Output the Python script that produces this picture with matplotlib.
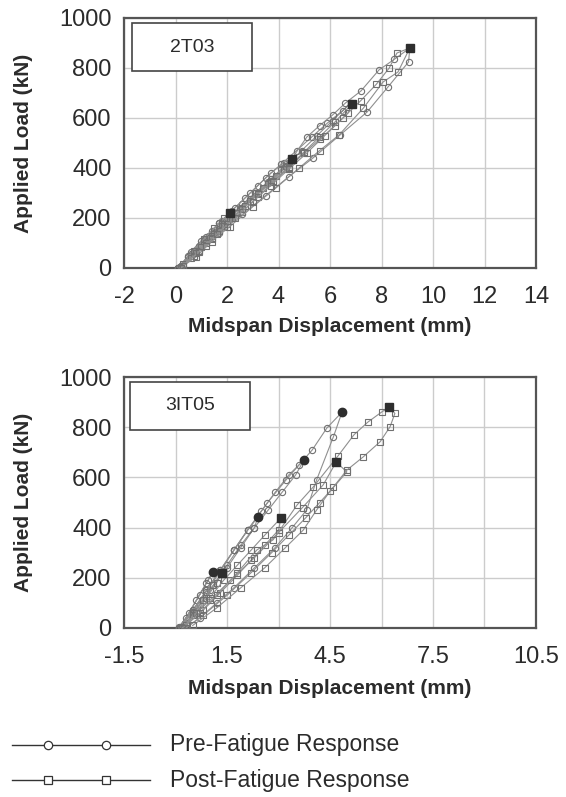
import matplotlib
matplotlib.use("Agg")
import matplotlib.pyplot as plt
from matplotlib.patches import Rectangle

plt.rcParams['font.family'] = ['Liberation Sans', 'DejaVu Sans']
plt.rcParams['axes.unicode_minus'] = False

# ---------------- data ----------------
# Panel 1: specimen 2T03
top_label = "2T03"
top_xticks = [-2, 0, 2, 4, 6, 8, 10, 12, 14]
top_yticks = [0, 200, 400, 600, 800, 1000]

top_pre_x = [
    [0.1, 0.5, 0.9, 1.3, 1.7, 2.1, 1.8, 1.4, 1.0, 0.6, 0.2],
    [0.1, 0.6, 1.1, 1.6, 2.1, 2.6, 3.1, 3.6, 4.1, 4.5, 4.2, 3.7, 3.2, 2.7, 2.2, 1.7, 1.2, 0.7, 0.2],
    [0.1, 0.7, 1.3, 1.9, 2.5, 3.1, 3.7, 4.3, 4.9, 5.5, 6.1, 6.8, 6.5, 5.9, 5.3, 4.7, 4.1, 3.5, 2.9, 2.3, 1.7, 1.1, 0.5, 0.1],
    [0.1, 0.8, 1.5, 2.2, 2.9, 3.6, 4.3, 5.1, 5.6, 6.1, 6.6, 7.2, 7.9, 8.5, 9.1, 9.05, 8.25, 7.44, 6.39, 5.34, 4.4, 3.5, 2.6, 1.7, 0.9, 0.2],
]
top_pre_y = [
    [0, 45, 90, 130, 170, 215, 190, 150, 110, 65, 10],
    [0, 55, 105, 155, 205, 255, 300, 345, 395, 440, 420, 380, 330, 280, 230, 180, 125, 70, 10],
    [0, 60, 120, 180, 240, 300, 355, 410, 470, 530, 590, 660, 630, 580, 525, 470, 415, 360, 300, 240, 180, 115, 50, 0],
    [0, 70, 140, 210, 275, 340, 405, 524, 570, 612, 660, 708, 792, 835, 880, 824, 724, 624, 532, 440, 365, 290, 215, 140, 70, 5],
]
top_post_x = [
    [0.2, 0.6, 1.0, 1.4, 1.8, 2.12, 1.9, 1.5, 1.1, 0.7, 0.3],
    [0.2, 0.7, 1.2, 1.7, 2.2, 2.7, 3.2, 3.7, 4.2, 4.52, 4.3, 3.9, 3.4, 2.9, 2.4, 1.9, 1.4, 0.9, 0.3],
    [0.2, 0.8, 1.4, 2.0, 2.6, 3.2, 3.8, 4.4, 5.0, 5.6, 6.2, 6.85, 6.7, 6.2, 5.6, 5.0, 4.4, 3.8, 3.2, 2.6, 2.0, 1.4, 0.8, 0.2],
    [0.2, 0.9, 1.6, 2.3, 3.0, 3.7, 4.4, 5.1, 5.8, 6.5, 7.2, 7.8, 8.3, 8.6, 9.1, 8.64, 8.06, 7.3, 6.35, 5.6, 4.8, 3.9, 3.0, 2.1, 1.2, 0.3],
]
top_post_y = [
    [0, 40, 85, 130, 175, 220, 200, 160, 115, 70, 15],
    [0, 50, 100, 150, 200, 250, 300, 345, 395, 435, 410, 370, 320, 270, 220, 170, 120, 70, 10],
    [0, 60, 115, 175, 235, 295, 350, 405, 465, 525, 585, 656, 620, 570, 515, 460, 400, 345, 285, 225, 165, 105, 45, 0],
    [0, 65, 135, 200, 265, 330, 395, 460, 530, 600, 670, 735, 800, 860, 880, 784, 744, 640, 532, 470, 400, 320, 245, 165, 90, 10],
]
top_post_peak_x = [2.12, 4.52, 6.85, 9.1]
top_post_peak_y = [220, 435, 656, 880]

# Panel 2: specimen 3IT05
bot_label = "3IT05"
bot_xticks = [-1.5, 1.5, 4.5, 7.5, 10.5]
bot_xgrid = [0, 3, 6, 9]
bot_yticks = [0, 200, 400, 600, 800, 1000]

bot_pre_x = [
    [0.1, 0.4, 0.7, 0.95, 1.09, 0.9, 0.6, 0.3, 0.1],
    [0.1, 0.5, 0.9, 1.3, 1.7, 2.1, 2.4, 2.3, 1.9, 1.5, 1.1, 0.7, 0.3, 0.1],
    [0.1, 0.5, 0.9, 1.3, 1.7, 2.1, 2.5, 2.9, 3.3, 3.74, 3.5, 3.1, 2.7, 2.3, 1.9, 1.5, 1.0, 0.5, 0.15],
    [0.1, 0.5, 0.9, 1.3, 1.7, 2.1, 2.67, 3.22, 3.6, 3.98, 4.41, 4.85, 4.6, 4.11, 3.82, 3.4, 2.9, 2.3, 1.7, 1.2, 0.7, 0.3],
]
bot_pre_y = [
    [0, 60, 130, 190, 223, 180, 110, 40, 5],
    [0, 70, 150, 230, 310, 390, 442, 400, 330, 250, 170, 90, 20, 0],
    [0, 70, 150, 230, 310, 390, 465, 540, 610, 669, 610, 540, 470, 400, 320, 240, 150, 60, 5],
    [0, 65, 145, 225, 310, 390, 498, 590, 650, 709, 797, 860, 762, 590, 470, 400, 320, 240, 160, 100, 40, 0],
]
bot_pre_peak_x = [1.09, 2.4, 3.74, 4.85]
bot_pre_peak_y = [223, 442, 669, 860]

bot_post_x = [
    [0.2, 0.5, 0.8, 1.1, 1.35, 1.2, 0.9, 0.6, 0.25],
    [0.2, 0.6, 1.0, 1.4, 1.8, 2.2, 2.6, 3.07, 3.0, 2.6, 2.2, 1.8, 1.3, 0.8, 0.3],
    [0.2, 0.6, 1.0, 1.6, 2.3, 3.0, 3.7, 4.3, 4.68, 4.99, 4.6, 4.2, 3.8, 3.3, 2.8, 2.2, 1.5, 0.8, 0.3],
    [0.2, 0.7, 1.2, 1.8, 2.37, 2.84, 3.54, 4.0, 4.73, 5.2, 5.6, 6.0, 6.22, 6.39, 6.25, 5.96, 5.47, 4.99, 4.5, 4.11, 3.72, 3.2, 2.6, 1.9, 1.2, 0.5],
]
bot_post_y = [
    [0, 50, 110, 170, 219, 180, 120, 60, 5],
    [0, 60, 120, 190, 250, 310, 370, 438, 390, 330, 270, 210, 140, 70, 10],
    [0, 60, 110, 190, 280, 380, 480, 570, 661, 622, 560, 500, 440, 370, 300, 220, 130, 50, 0],
    [0, 60, 130, 220, 311, 351, 490, 560, 685, 770, 820, 860, 880, 855, 802, 742, 682, 629, 545, 470, 390, 320, 240, 160, 80, 10],
]
bot_post_peak_x = [1.35, 3.07, 4.68, 6.22]
bot_post_peak_y = [219, 438, 661, 880]

legend_labels = ["Pre-Fatigue Response", "Post-Fatigue Response"]

# ---------------- figure ----------------
W, H = 566, 797
fig = plt.figure(figsize=(W / 100, H / 100), dpi=100)

line_col = '#8f8f8f'
mk_col = '#707070'
peak_col = '#2e2e2e'
frame_col = '#555555'
grid_col = '#cccccc'
text_col = '#2b2b2b'


def px_axes(left, top, right, bottom):
    return fig.add_axes([left / W, 1 - bottom / H, (right - left) / W, (bottom - top) / H])


def draw_series(ax, xs, ys, marker):
    for x, y in zip(xs, ys):
        ax.plot(x, y, color=line_col, lw=0.8, marker=marker, ms=4.5,
                mfc='none', mec=mk_col, mew=0.8, zorder=3)


def style_axes(ax, xlim, yticks, label, box):
    ax.set_xlim(*xlim)
    ax.set_ylim(0, 1000)
    ax.set_yticks(yticks)
    ax.grid(True, which='both', color=grid_col, lw=1.0, zorder=0)
    ax.set_axisbelow(True)
    for s in ax.spines.values():
        s.set_color(frame_col)
        s.set_linewidth(1.6)
    ax.tick_params(axis='both', which='both', length=0, labelsize=17,
                   labelcolor=text_col)
    ax.tick_params(axis='y', pad=9)
    ax.tick_params(axis='x', pad=13)
    ax.add_patch(Rectangle((box[0], box[1]), box[2], box[3], transform=ax.transAxes,
                           facecolor='white', edgecolor='#444444', lw=1.2, zorder=5))
    ax.text(box[0] + box[2] / 2, box[1] + box[3] / 2, label, transform=ax.transAxes,
            ha='center', va='center', fontsize=14, color=text_col, zorder=6)


# Top panel
ax1 = px_axes(124, 18, 536, 268)
draw_series(ax1, top_pre_x, top_pre_y, 'o')
draw_series(ax1, top_post_x, top_post_y, 's')
ax1.plot(top_post_peak_x, top_post_peak_y, ls='none', marker='s', ms=6,
         mfc=peak_col, mec=peak_col, zorder=4)
ax1.set_xticks(top_xticks)
ax1.set_xticklabels([f"{v:g}" for v in top_xticks])
style_axes(ax1, (-2, 14), top_yticks, top_label, (0.0194, 0.788, 0.2917, 0.192))

# Bottom panel
ax2 = px_axes(124, 377, 536, 628)
draw_series(ax2, bot_pre_x, bot_pre_y, 'o')
draw_series(ax2, bot_post_x, bot_post_y, 's')
ax2.plot(bot_pre_peak_x, bot_pre_peak_y, ls='none', marker='o', ms=6,
         mfc=peak_col, mec=peak_col, zorder=4)
ax2.plot(bot_post_peak_x, bot_post_peak_y, ls='none', marker='s', ms=6,
         mfc=peak_col, mec=peak_col, zorder=4)
ax2.set_xticks(bot_xticks)
ax2.set_xticklabels([f"{v:g}" for v in bot_xticks])
ax2.set_xticks(bot_xgrid, minor=True)
style_axes(ax2, (-1.5, 10.5), bot_yticks, bot_label, (0.0146, 0.789, 0.2912, 0.191))

# Axis titles
for yc in (143, 502):
    fig.text(24 / W, 1 - yc / H, "Applied Load (kN)", rotation=90, ha='center',
             va='center', fontsize=15, fontweight='bold', color=text_col)
for yc in (327, 688):
    fig.text(330 / W, 1 - yc / H, "Midspan Displacement (mm)", ha='center',
             va='center', fontsize=15, fontweight='bold', color=text_col)

# Legend
lax = fig.add_axes([0, 0, 1, 1], facecolor='none')
lax.set_xlim(0, W)
lax.set_ylim(H, 0)
lax.axis('off')
for yc, mk, lab in ((745, 'o', legend_labels[0]), (780, 's', legend_labels[1])):
    lax.plot([12, 150], [yc, yc], color='#333333', lw=1.0)
    lax.plot([48, 106], [yc, yc], ls='none', marker=mk, ms=6 if mk == 'o' else 5.5,
             mfc='white', mec='#333333', mew=0.9)
    lax.text(170, yc, lab, ha='left', va='center', fontsize=16.5, color=text_col)

fig.savefig("out.png", dpi=100)
